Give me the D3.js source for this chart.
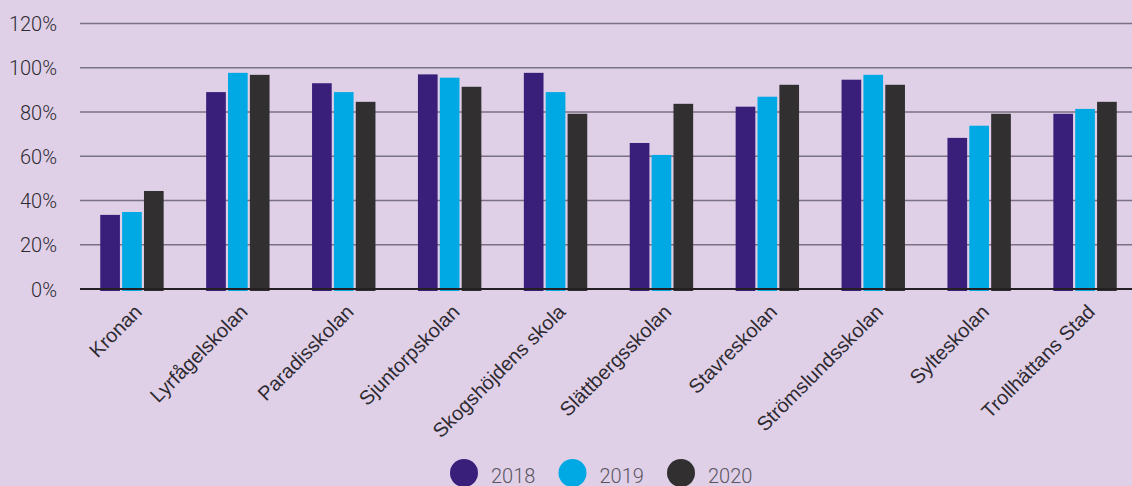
<!DOCTYPE html>
<html>
<head>
    <meta charset="utf-8" />
    <title></title>
    <style>
        body { margin: 0; background: #dfd0e8; }
        .grid line { stroke: #7a7280; stroke-width: 1.5px; }
        .yaxis text { font-family: Roboto, sans-serif; font-weight: 300; font-size: 20px; fill: #2e2a30; }
        .xaxis text { font-family: "Liberation Sans", Arial, sans-serif; font-size: 20px; fill: #2e2a30; }
        .legend text { font-family: Roboto, sans-serif; font-weight: 300; font-size: 20px; fill: #5a5560; }
    </style>
</head>
<body>
    <script src="https://d3js.org/d3.v7.min.js"></script>
    <script>
      var width = 1132;
      var height = 486;

      var schools = ["Kronan", "Lyrfågelskolan", "Paradisskolan", "Sjuntorpskolan", "Skogshöjdens skola",
                     "Slättbergsskolan", "Stavreskolan", "Strömslundsskolan", "Sylteskolan", "Trollhättans Stad"];
      var years = ["2018", "2019", "2020"];
      var v2018 = [33.5, 89, 93, 97, 97.7, 66, 82.4, 94.6, 68.3, 79.2];
      var v2019 = [34.8, 97.7, 89, 95.5, 89, 60.6, 86.9, 96.8, 73.8, 81.4];
      var v2020 = [44.3, 96.8, 84.6, 91.4, 79.2, 83.7, 92.3, 92.3, 79.2, 84.6];
      var yTicks = [0, 20, 40, 60, 80, 100, 120];
      var colors = ["#3a1f7a", "#00a9e3", "#312f30"];

      var series = [v2018, v2019, v2020];

      var svg = d3.select("body").append("svg")
        .attr("width", width)
        .attr("height", height);

      var x0 = d3.scaleBand().domain(schools).range([79, 1138]).paddingInner(0.36).paddingOuter(0.18);
      var x1 = d3.scaleBand().domain(years).range([0, x0.bandwidth()]).padding(0.1);
      var y = d3.scaleLinear().domain([0, 120]).range([289, 23.5]);

      // grid
      svg.append("g")
        .attr("class", "grid")
        .selectAll("line")
        .data(yTicks.slice(1))
        .enter().append("line")
        .attr("x1", 80).attr("x2", width)
        .attr("y1", function(d) { return y(d); })
        .attr("y2", function(d) { return y(d); });

      // y axis labels
      var yAxis = svg.append("g")
        .attr("class", "yaxis")
        .attr("transform", "translate(57,0)")
        .call(d3.axisLeft(y).tickValues(yTicks).tickSize(0).tickFormat(function(d) { return d + "%"; }));
      yAxis.select(".domain").remove();
      yAxis.selectAll("text").attr("x", 0).attr("dy", "0.36em");

      // bars
      var groups = svg.append("g")
        .selectAll("g")
        .data(schools)
        .enter().append("g")
        .attr("transform", function(d) { return "translate(" + x0(d) + ",0)"; });

      groups.selectAll("rect")
        .data(function(d, i) { return years.map(function(yr, j) { return { year: yr, value: series[j][i], j: j }; }); })
        .enter().append("rect")
        .attr("x", function(d) { return x1(d.year); })
        .attr("width", x1.bandwidth())
        .attr("y", function(d) { return y(d.value); })
        .attr("height", function(d) { return y(0) - y(d.value) + 2; })
        .attr("fill", function(d) { return colors[d.j]; });

      // baseline
      svg.append("line")
        .attr("x1", 80).attr("x2", width)
        .attr("y1", y(0)).attr("y2", y(0))
        .attr("stroke", "#231f22")
        .attr("stroke-width", 2.2);

      // x labels
      var xAxis = svg.append("g")
        .attr("class", "xaxis")
        .attr("transform", "translate(0," + y(0) + ")")
        .call(d3.axisBottom(x0).tickSize(0));
      xAxis.select(".domain").remove();
      xAxis.selectAll("text")
        .attr("text-anchor", "end")
        .attr("dy", "0")
        .attr("transform", "translate(9,22) rotate(-45)");

      // legend
      var legend = svg.append("g")
        .attr("class", "legend")
        .selectAll("g")
        .data(years)
        .enter().append("g")
        .attr("transform", function(d, i) { return "translate(" + (464 + i * 108.5) + ",473)"; });
      legend.append("circle").attr("r", 14).attr("fill", function(d, i) { return colors[i]; });
      legend.append("text").attr("x", 27).attr("y", 10).text(function(d) { return d; });
    </script>
</body>
</html>
